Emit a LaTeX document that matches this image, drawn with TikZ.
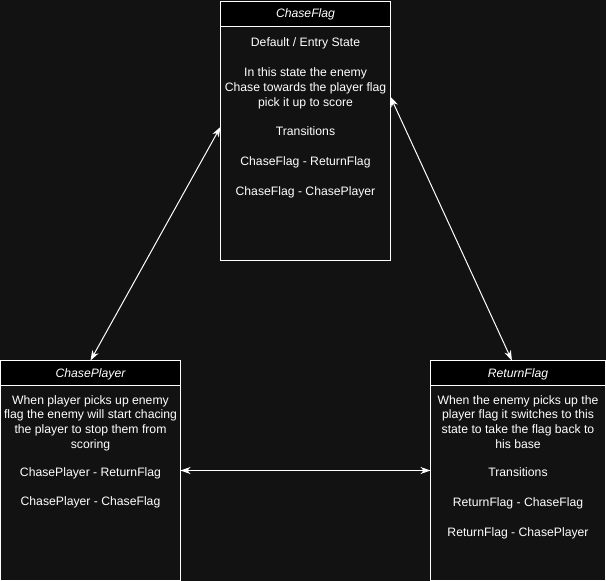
\documentclass[tikz,border=0pt]{standalone}
\usepackage{fontspec}
\setmainfont{Liberation Sans}
\usetikzlibrary{arrows.meta,calc}
\definecolor{canvas}{HTML}{121212}
\begin{document}
\begin{tikzpicture}[x=1pt,y=-1pt,
  statebox/.style={draw=white, line width=1pt, fill=canvas, anchor=north west,
    inner sep=0pt, outer sep=0pt},
  headbox/.style={draw=white, line width=1pt, fill=black, anchor=north west,
    inner sep=0pt, outer sep=0pt, minimum height=25pt},
  headtext/.style={text=white, inner sep=0pt,
    font=\fontsize{12.2}{14.9}\selectfont\itshape},
  bodytext/.style={text=white, align=center, inner sep=0pt, anchor=north,
    font=\fontsize{12.2}{14.9}\selectfont},
  link/.style={draw=white, line width=1pt,
    {Stealth[length=10pt,width=7pt,inset=3pt]}-{Stealth[length=10pt,width=7pt,inset=3pt]}}
]
% canvas
\fill[canvas] (0,0) rectangle (606,581);
\useasboundingbox (0,0) rectangle (606,581);

% ChaseFlag state
\node[statebox, minimum width=170pt, minimum height=259pt] (cf) at (220.5,1) {};
\node[headbox, minimum width=170pt] (cfh) at (220.5,1) {};
\node[headtext] (cfl) at ($(cfh.center)+(0,1)$) {ChaseFlag};
\node[bodytext] (cft) at ($(cf.north)+(0,36.5)$) {Default / Entry State\\[14.9pt]
  In this state the enemy\\ Chase towards the player flag\\ pick it up to score\\[14.9pt]
  Transitions\\[14.9pt]
  ChaseFlag - ReturnFlag\\[14.9pt]
  ChaseFlag - ChasePlayer};

% ChasePlayer state
\node[statebox, minimum width=180pt, minimum height=220pt] (cp) at (0.5,360.5) {};
\node[headbox, minimum width=180pt] (cph) at (0.5,360.5) {};
\node[headtext] (cpl) at ($(cph.center)+(0,1)$) {ChasePlayer};
\node[bodytext] (cpt) at ($(cp.north)+(0,34.5)$) {When player picks up enemy\\
  flag the enemy will start chacing\\ the player to stop them from\\ scoring\\[13pt]
  ChasePlayer - ReturnFlag\\[14.3pt]
  ChasePlayer - ChaseFlag};

% ReturnFlag state
\node[statebox, minimum width=175pt, minimum height=220pt] (rf) at (430.5,360.5) {};
\node[headbox, minimum width=175pt] (rfh) at (430.5,360.5) {};
\node[headtext] (rfl) at ($(rfh.center)+(0,1)$) {ReturnFlag};
\node[bodytext] (rft) at ($(rf.north)+(0,34.5)$) {When the enemy picks up the\\
  player flag it switches to this\\ state to take the flag back to\\ his base\\[13pt]
  Transitions\\[14.9pt]
  ReturnFlag - ChaseFlag\\[14.9pt]
  ReturnFlag - ChasePlayer};

% transitions
\draw[link] ($(cf.north west)!0.486!(cf.south west)$) -- (cp.north);
\draw[link] ($(cf.north east)!0.37!(cf.south east)$) -- ($(rf.north west)!0.465!(rf.north east)$);
\draw[link] (cp.east) -- (rf.west);
\end{tikzpicture}
\end{document}
